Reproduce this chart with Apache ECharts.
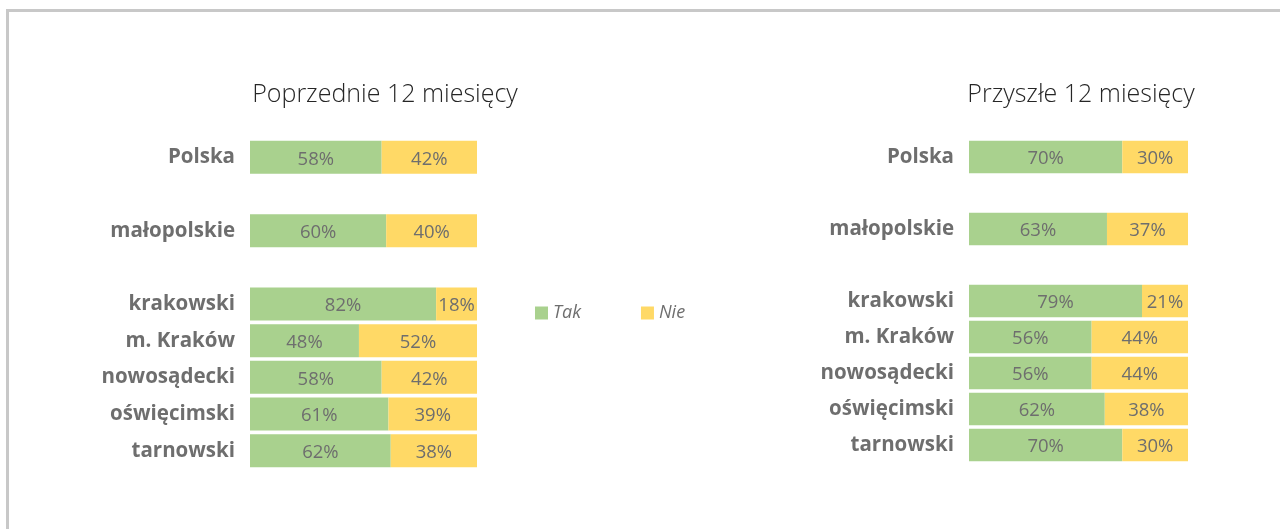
<!DOCTYPE html>
<html>
<head>
<meta charset="utf-8">
<script src="https://cdn.jsdelivr.net/npm/echarts@6/dist/echarts.min.js"></script>
<style>
  html, body { margin: 0; padding: 0; background: #fff; }
  #frame {
    position: absolute; left: 6px; top: 9px; width: 1300px; height: 560px;
    border-top: 3px solid #c8c8c8; border-left: 3px solid #c8c8c8;
  }
  #chart { position: absolute; left: 0; top: 0; width: 1280px; height: 529px; }
</style>
</head>
<body>
<div id="frame"></div>
<div id="chart"></div>
<script>
const categories = ['Polska', '', 'małopolskie', '', 'krakowski', 'm. Kraków', 'nowosądecki', 'oświęcimski', 'tarnowski']
const prevTak = [58, null, 60, null, 82, 48, 58, 61, 62]
const prevNie = [42, null, 40, null, 18, 52, 42, 39, 38]
const nextTak = [70, null, 63, null, 79, 56, 56, 62, 70]
const nextNie = [30, null, 37, null, 21, 44, 44, 38, 30]
const titles = ['Poprzednie 12 miesięcy', 'Przyszłe 12 miesięcy']

const green = '#a9d18e'
const yellow = '#ffd966'
const textGray = '#6e6e6e'

const chart = echarts.init(document.getElementById('chart'))

const valueLabel = {
  show: true,
  position: 'inside',
  color: textGray,
  fontFamily: 'Open Sans',
  fontSize: 18.5,
  offset: [0, 2],
  formatter: p => (p.value == null ? '' : p.value + '%')
}

const makeSeries = (name, data, idx, color) => ({
  name,
  type: 'bar',
  stack: 's' + idx,
  xAxisIndex: idx,
  yAxisIndex: idx,
  barWidth: '90%',
  data: data.map(v => (v == null ? '-' : v)),
  itemStyle: { color },
  label: valueLabel,
  emphasis: { disabled: true }
})

const catAxis = idx => ({
  type: 'category',
  gridIndex: idx,
  inverse: true,
  data: categories,
  axisLine: { show: false },
  axisTick: { show: false },
  axisLabel: {
    color: textGray,
    fontFamily: 'Open Sans',
    fontWeight: 'bold',
    fontSize: 20.5,
    margin: 15,
    padding: [6, 0, 0, 0]
  }
})

const valAxis = idx => ({
  type: 'value',
  gridIndex: idx,
  min: 0,
  max: 100,
  show: false
})

const titleStyle = { fontFamily: 'Open Sans', fontWeight: 300, fontSize: 25, color: '#262626' }

const option = {
  animation: false,
  title: [
    { text: titles[0], left: 380, top: 77, textAlign: 'center', textStyle: titleStyle },
    { text: titles[1], left: 1076, top: 77, textAlign: 'center', textStyle: titleStyle }
  ],
  legend: {
    data: ['Tak', 'Nie'],
    left: 530,
    top: 299,
    itemWidth: 13,
    itemHeight: 13,
    itemGap: 60,
    icon: 'rect',
    textStyle: { color: textGray, fontStyle: 'italic', fontFamily: 'Open Sans', fontSize: 18 }
  },
  grid: [
    { left: 250, width: 227, top: 139, height: 330 },
    { left: 969, width: 219, top: 139, height: 324 }
  ],
  xAxis: [valAxis(0), valAxis(1)],
  yAxis: [catAxis(0), catAxis(1)],
  series: [
    makeSeries('Tak', prevTak, 0, green),
    makeSeries('Nie', prevNie, 0, yellow),
    makeSeries('Tak', nextTak, 1, green),
    makeSeries('Nie', nextNie, 1, yellow)
  ]
}

chart.setOption(option)
</script>
</body>
</html>
